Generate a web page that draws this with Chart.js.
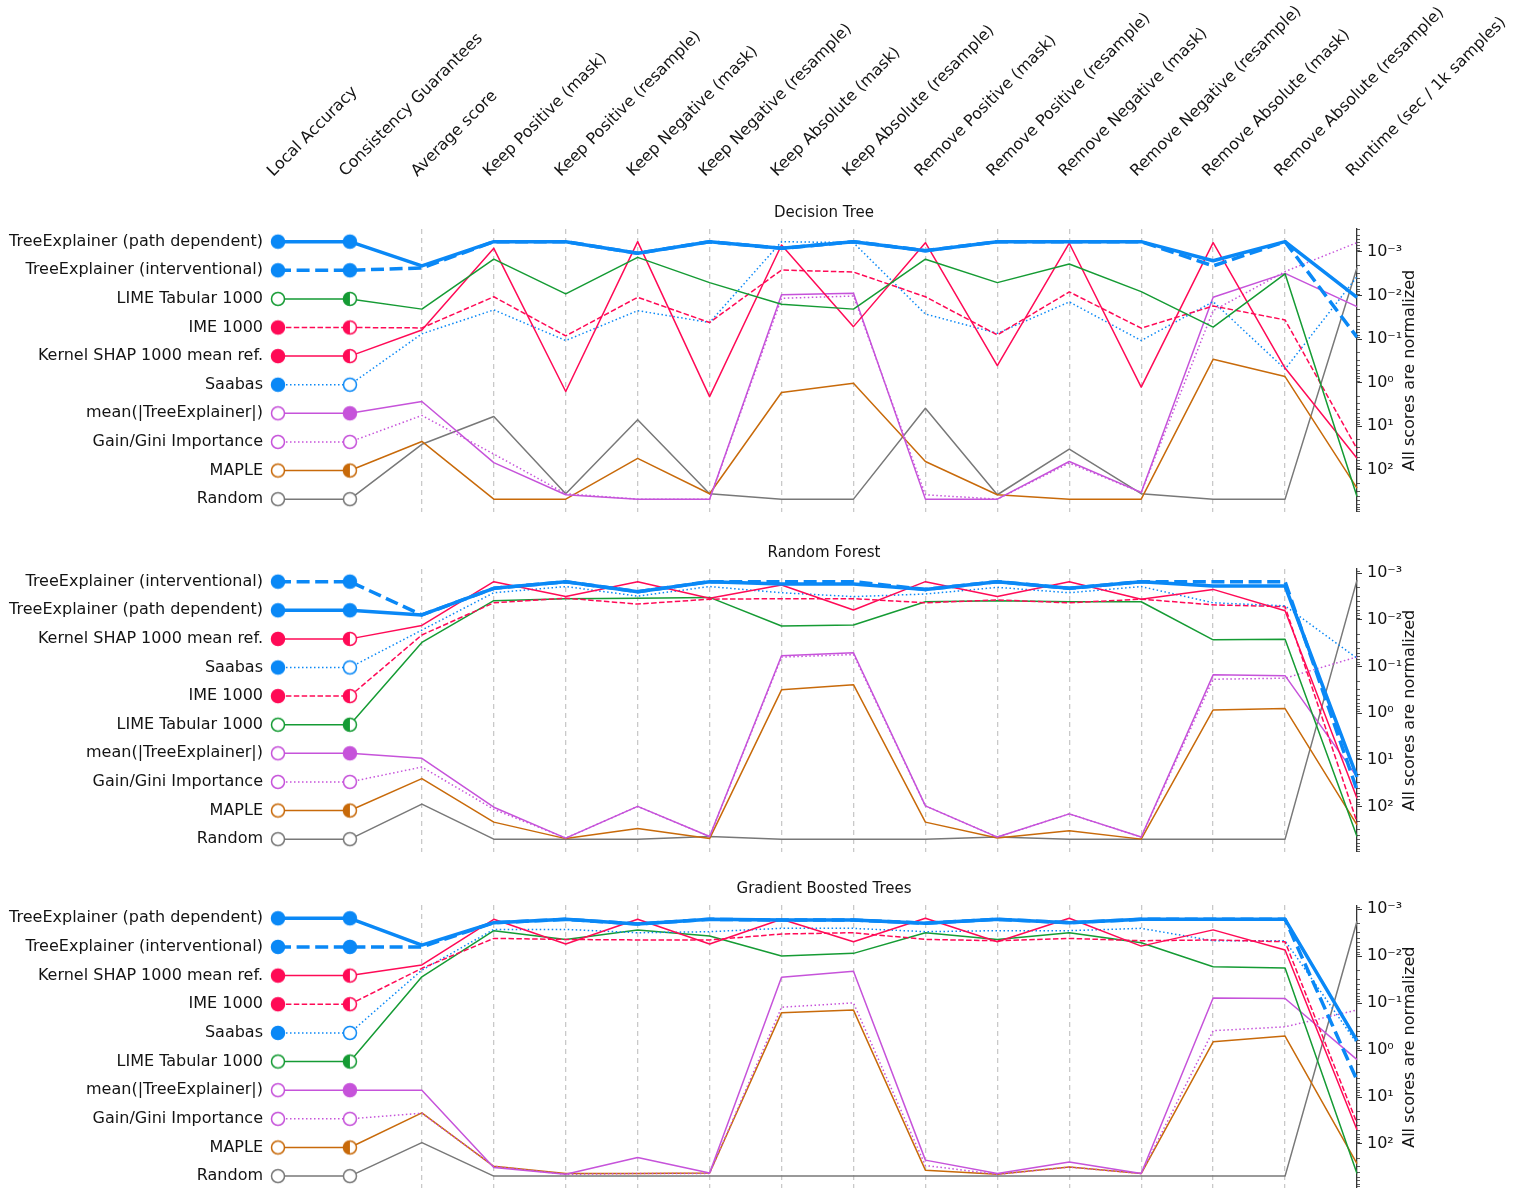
<!DOCTYPE html>
<html>
<head>
<meta charset="utf-8">
<title>Explainer benchmark</title>
<script src="https://cdn.jsdelivr.net/npm/chart.js@4.4.1/dist/chart.umd.min.js"></script>
<style>
  html, body { margin: 0; padding: 0; background: #ffffff; overflow: hidden; }
  #page { position: relative; width: 1523px; height: 1188px; overflow: hidden; background: #ffffff; }
  #page canvas { position: absolute; left: 0; }
</style>
</head>
<body>
<div id="page">
  <canvas id="panelDT" width="1523" height="520" style="top:0px"></canvas>
  <canvas id="panelRF" width="1523" height="330" style="top:530px"></canvas>
  <canvas id="panelGBT" width="1523" height="323" style="top:866px"></canvas>
</div>
<script>
// ---------------------------------------------------------------------------
// Column headers (the last one is the runtime axis)
const columns = [
  "Local Accuracy", "Consistency Guarantees", "Average score",
  "Keep Positive (mask)", "Keep Positive (resample)",
  "Keep Negative (mask)", "Keep Negative (resample)",
  "Keep Absolute (mask)", "Keep Absolute (resample)",
  "Remove Positive (mask)", "Remove Positive (resample)",
  "Remove Negative (mask)", "Remove Negative (resample)",
  "Remove Absolute (mask)", "Remove Absolute (resample)",
  "Runtime (sec / 1k samples)"
];

const methodNames = [
  "TreeExplainer (path dependent)", "TreeExplainer (interventional)",
  "LIME Tabular 1000", "IME 1000", "Kernel SHAP 1000 mean ref.", "Saabas",
  "mean(|TreeExplainer|)", "Gain/Gini Importance", "MAPLE", "Random"
];
// property markers: full = yes, open = no, half = only under some conditions
const localAccuracy = ["full", "full", "open", "full", "full", "full", "open", "open", "open", "open"];
const consistency   = ["full", "full", "half", "half", "half", "open", "full", "open", "half", "open"];

const panelTitles = ["Decision Tree", "Random Forest", "Gradient Boosted Trees"];

// Normalized scores (1 = best). Columns: Average score, then the 12 metrics.
const dtOrder = [
  "TreeExplainer (path dependent)", "TreeExplainer (interventional)", "LIME Tabular 1000",
  "IME 1000", "Kernel SHAP 1000 mean ref.", "Saabas", "mean(|TreeExplainer|)",
  "Gain/Gini Importance", "MAPLE", "Random"
];
const dtScores = [
  [0.906, 1.000, 1.000, 0.955, 1.000, 0.974, 1.000, 0.965, 1.000, 1.000, 1.000, 0.926, 1.000],
  [0.898, 1.000, 1.000, 0.955, 1.000, 0.974, 1.000, 0.965, 1.000, 1.000, 1.000, 0.906, 1.000],
  [0.738, 0.932, 0.797, 0.939, 0.841, 0.757, 0.738, 0.932, 0.841, 0.913, 0.806, 0.668, 0.875],
  [0.665, 0.786, 0.634, 0.784, 0.686, 0.890, 0.882, 0.786, 0.638, 0.805, 0.664, 0.750, 0.696],
  [0.657, 0.974, 0.418, 1.000, 0.398, 0.987, 0.670, 0.996, 0.519, 0.994, 0.435, 0.996, 0.509],
  [0.642, 0.735, 0.616, 0.732, 0.686, 1.000, 0.996, 0.719, 0.644, 0.766, 0.616, 0.767, 0.505],
  [0.379, 0.142, 0.017, 0.000, 0.000, 0.794, 0.800, 0.000, 0.000, 0.146, 0.026, 0.784, 0.877],
  [0.325, 0.175, 0.021, 0.000, 0.000, 0.780, 0.789, 0.017, 0.000, 0.140, 0.026, 0.732, 0.884],
  [0.224, 0.000, 0.000, 0.158, 0.021, 0.414, 0.450, 0.146, 0.017, 0.000, 0.000, 0.543, 0.476],
  [0.213, 0.321, 0.021, 0.308, 0.021, 0.000, 0.000, 0.353, 0.017, 0.194, 0.021, 0.000, 0.000]
];
const dtRuntime = [0.011, 0.09, 410, 33, 54, 0.0037, 0.018, 0.00061, 263, 0.0023];
const dtRuntimeAxis = [2.94e-4, 929];

const rfOrder = [
  "TreeExplainer (interventional)", "TreeExplainer (path dependent)", "Kernel SHAP 1000 mean ref.",
  "Saabas", "IME 1000", "LIME Tabular 1000", "mean(|TreeExplainer|)",
  "Gain/Gini Importance", "MAPLE", "Random"
];
const rfScores = [
  [0.871, 0.974, 1.000, 0.961, 1.000, 1.000, 1.000, 0.970, 1.000, 0.974, 1.000, 1.000, 1.000],
  [0.871, 0.974, 1.000, 0.961, 1.000, 0.991, 0.991, 0.970, 1.000, 0.974, 1.000, 0.983, 0.983],
  [0.830, 1.000, 0.942, 1.000, 0.936, 0.987, 0.890, 1.000, 0.942, 1.000, 0.932, 0.970, 0.887],
  [0.812, 0.957, 0.981, 0.944, 0.981, 0.957, 0.942, 0.952, 0.978, 0.957, 0.981, 0.918, 0.906],
  [0.793, 0.918, 0.936, 0.913, 0.932, 0.934, 0.934, 0.918, 0.929, 0.918, 0.932, 0.910, 0.903],
  [0.764, 0.926, 0.934, 0.936, 0.939, 0.828, 0.832, 0.922, 0.926, 0.922, 0.922, 0.774, 0.776],
  [0.314, 0.124, 0.004, 0.127, 0.010, 0.712, 0.724, 0.129, 0.008, 0.098, 0.008, 0.638, 0.635],
  [0.280, 0.116, 0.004, 0.127, 0.010, 0.707, 0.717, 0.129, 0.008, 0.098, 0.008, 0.621, 0.625],
  [0.235, 0.066, 0.002, 0.041, 0.002, 0.580, 0.600, 0.066, 0.004, 0.033, 0.000, 0.502, 0.507],
  [0.136, 0.000, 0.000, 0.000, 0.010, 0.000, 0.000, 0.000, 0.008, 0.000, 0.000, 0.000, 0.000]
];
const rfRuntime = [44, 23, 66, 0.066, 215, 437, 23, 0.062, 245, 0.0014];
const rfRuntimeAxis = [8.02e-4, 938];

const gbtOrder = [
  "TreeExplainer (path dependent)", "TreeExplainer (interventional)", "Kernel SHAP 1000 mean ref.",
  "IME 1000", "Saabas", "LIME Tabular 1000", "mean(|TreeExplainer|)",
  "Gain/Gini Importance", "MAPLE", "Random"
];
const gbtScores = [
  [0.896, 0.983, 0.996, 0.978, 0.996, 0.993, 0.993, 0.981, 0.996, 0.983, 0.996, 0.996, 0.996],
  [0.889, 0.983, 0.996, 0.978, 0.996, 0.993, 0.993, 0.981, 0.996, 0.983, 0.996, 0.996, 0.996],
  [0.819, 0.996, 0.900, 0.996, 0.900, 0.996, 0.909, 1.000, 0.909, 1.000, 0.892, 0.955, 0.877],
  [0.806, 0.922, 0.918, 0.916, 0.916, 0.939, 0.944, 0.918, 0.913, 0.922, 0.913, 0.916, 0.909],
  [0.799, 0.957, 0.957, 0.944, 0.948, 0.961, 0.961, 0.948, 0.952, 0.952, 0.961, 0.913, 0.913],
  [0.773, 0.952, 0.918, 0.955, 0.931, 0.854, 0.864, 0.944, 0.918, 0.944, 0.905, 0.812, 0.807],
  [0.333, 0.033, 0.007, 0.072, 0.012, 0.771, 0.795, 0.062, 0.010, 0.055, 0.010, 0.691, 0.689],
  [0.244, 0.038, 0.007, 0.010, 0.010, 0.655, 0.672, 0.041, 0.007, 0.035, 0.010, 0.564, 0.579],
  [0.245, 0.038, 0.010, 0.010, 0.012, 0.634, 0.644, 0.023, 0.007, 0.035, 0.010, 0.521, 0.543],
  [0.130, 0.000, 0.000, 0.000, 0.000, 0.000, 0.000, 0.000, 0.000, 0.000, 0.000, 0.000, 0.000]
];
const gbtRuntime = [0.63, 4.4, 50, 36, 0.72, 426, 1.6, 0.14, 263, 0.0018];
const gbtRuntimeAxis = [8.26e-4, 912];

const runtimeTicks = [1e-3, 1e-2, 1e-1, 1e0, 1e1, 1e2];

// ---------------------------------------------------------------------------
// Styling
const FONT_FAMILY = "'DejaVu Sans', 'Liberation Sans', sans-serif";
const INK = "#141414";
const BLUE = "#0a88f6";
const RED = "#ff0a56";
const GREEN = "#159b34";
const PURPLE = "#c653da";
const ORANGE = "#c86a0a";
const GRAY = "#787878";
const GRID = "#c9c9c9";

const Y_MIN = -0.05, Y_MAX = 1.05;
const AREA_H = 283.4;          // plot height in px (rows are 1/9 apart)

const methodStyle = {
  "TreeExplainer (path dependent)": { color: BLUE,   width: 3.5, dash: [] },
  "TreeExplainer (interventional)": { color: BLUE,   width: 3.5, dash: [13, 5.6] },
  "LIME Tabular 1000":              { color: GREEN,  width: 1.5, dash: [] },
  "IME 1000":                       { color: RED,    width: 1.5, dash: [5.5, 2.4] },
  "Kernel SHAP 1000 mean ref.":     { color: RED,    width: 1.5, dash: [] },
  "Saabas":                         { color: BLUE,   width: 1.5, dash: [1.5, 2.5] },
  "mean(|TreeExplainer|)":          { color: PURPLE, width: 1.5, dash: [] },
  "Gain/Gini Importance":           { color: PURPLE, width: 1.5, dash: [1.5, 2.5] },
  "MAPLE":                          { color: ORANGE, width: 1.5, dash: [] },
  "Random":                         { color: GRAY,   width: 1.5, dash: [] }
};

const RUNTIME_COL = columns.length - 1;

// Circle markers: filled, open, or left half filled
const markerCache = {};
function markerImage(kind, color) {
  const key = kind + color;
  if (markerCache[key]) return markerCache[key];
  const size = 18, c = size / 2, r = 6.5;
  const cv = document.createElement("canvas");
  cv.width = size; cv.height = size;
  const g = cv.getContext("2d");
  g.beginPath(); g.arc(c, c, r, 0, Math.PI * 2);
  g.fillStyle = kind === "full" ? color : "#ffffff";
  g.fill();
  if (kind === "half") {
    g.beginPath();
    g.moveTo(c, c - r);
    g.arc(c, c, r, -Math.PI / 2, Math.PI / 2, true);
    g.closePath();
    g.fillStyle = color;
    g.fill();
  }
  g.beginPath(); g.arc(c, c, r, 0, Math.PI * 2);
  g.lineWidth = 1.5; g.strokeStyle = color; g.stroke();
  markerCache[key] = cv;
  return cv;
}

const supMap = { "-": "\u207B", "0": "\u2070", "1": "\u00B9", "2": "\u00B2", "3": "\u00B3",
  "4": "\u2074", "5": "\u2075", "6": "\u2076", "7": "\u2077", "8": "\u2078", "9": "\u2079" };
function powerLabel(v) {
  const e = Math.round(Math.log10(v));
  return "10" + String(e).split("").map(ch => supMap[ch]).join("");
}

function buildDatasets(order, scores, runtime) {
  const last = order.length - 1;
  return order.map((name, row) => {
    const st = methodStyle[name];
    const m = methodNames.indexOf(name);
    const rowValue = 1 - row / last;
    const values = [rowValue, rowValue].concat(scores[row], [runtime[row]]);
    return {
      label: name,
      data: values.map((v, i) => ({ x: i, y: v })),
      runtime: runtime[row],
      xAxisID: "x",
      yAxisID: "y",
      borderColor: st.color,
      backgroundColor: st.color,
      borderWidth: st.width,
      borderDash: st.dash,
      borderCapStyle: "butt",
      borderJoinStyle: "round",
      tension: 0,
      fill: false,
      clip: false,
      pointBorderWidth: 0,
      pointRadius: ctx => (ctx.dataIndex < 2 ? 7 : 0),
      pointHoverRadius: ctx => (ctx.dataIndex < 2 ? 7 : 0),
      pointStyle: ctx => {
        if (ctx.dataIndex === 0) return markerImage(localAccuracy[m], st.color);
        if (ctx.dataIndex === 1) return markerImage(consistency[m], st.color);
        return "circle";
      }
    };
  });
}

// Runtime values live on the log axis: move the last point of every line there
const runtimeOnLogAxis = {
  id: "runtimeOnLogAxis",
  afterDatasetsUpdate(chart) {
    const yR = chart.scales.yRuntime;
    chart.data.datasets.forEach((ds, i) => {
      const meta = chart.getDatasetMeta(i);
      const pt = meta.data[RUNTIME_COL];
      if (pt) pt.y = yR.getPixelForValue(ds.runtime);
    });
  }
};

// Minor ticks of the runtime axis, panel title and the rotated axis title
const panelDecorations = {
  id: "panelDecorations",
  afterDraw(chart, args, opts) {
    const ctx = chart.ctx;
    const area = chart.chartArea;
    const yR = chart.scales.yRuntime;
    ctx.save();
    ctx.strokeStyle = "#333333";
    ctx.lineWidth = 0.8;
    for (let e = -5; e <= 4; e++) {
      for (let k = 2; k <= 9; k++) {
        const v = k * Math.pow(10, e);
        if (v < yR.min || v > yR.max) continue;
        const py = Math.round(yR.getPixelForValue(v)) + 0.5;
        ctx.beginPath();
        ctx.moveTo(yR.left, py);
        ctx.lineTo(yR.left + 3, py);
        ctx.stroke();
      }
    }
    ctx.fillStyle = INK;
    ctx.font = "15px " + FONT_FAMILY;
    ctx.textAlign = "center";
    ctx.textBaseline = "middle";
    ctx.fillText(opts.title, 824, area.top - 16);

    ctx.font = "16px " + FONT_FAMILY;
    ctx.translate(1410, (area.top + area.bottom) / 2);
    ctx.rotate(-Math.PI / 2);
    ctx.fillText("All scores are normalized", 0, 0);
    ctx.restore();
  }
};

function makePanel(canvasId, title, order, scores, runtime, runtimeAxis, topGap, showHeaders) {
  const font = { family: FONT_FAMILY, size: 16 };
  const chart = new Chart(document.getElementById(canvasId), {
    type: "line",
    data: { datasets: buildDatasets(order, scores, runtime) },
    plugins: [runtimeOnLogAxis, panelDecorations],
    options: {
      responsive: false,
      maintainAspectRatio: false,
      devicePixelRatio: 1,
      animation: false,
      events: [],
      layout: { autoPadding: false, padding: 0 },
      plugins: {
        legend: { display: false },
        tooltip: { enabled: false },
        panelDecorations: { title: title }
      },
      scales: {
        x: {
          type: "linear",
          position: "top",
          min: 0,
          max: RUNTIME_COL,
          afterBuildTicks: s => { s.ticks = columns.map((c, i) => ({ value: i })); },
          afterFit: s => { s.height = topGap; s.paddingLeft = 0; s.paddingRight = 0; },
          ticks: {
            display: showHeaders,
            autoSkip: false,
            minRotation: 45,
            maxRotation: 45,
            padding: 48,
            labelOffset: 6,
            font: font,
            color: INK,
            callback: (v, i) => columns[i]
          },
          grid: {
            drawTicks: false,
            lineWidth: 1.3,
            color: ctx => (ctx.tick && ctx.tick.value >= 2 && ctx.tick.value <= RUNTIME_COL - 1) ? GRID : "rgba(0,0,0,0)"
          },
          border: { display: false, dash: [5, 4] }
        },
        y: {
          type: "linear",
          position: "left",
          min: Y_MIN,
          max: Y_MAX,
          afterBuildTicks: s => { s.ticks = order.map((n, i) => ({ value: 1 - i / (order.length - 1) })); },
          afterFit: s => { s.width = 278; s.paddingTop = 0; s.paddingBottom = 0; },
          ticks: {
            autoSkip: false,
            padding: 15,
            font: font,
            color: INK,
            callback: (v, i) => order[i]
          },
          grid: { display: false, drawTicks: false },
          border: { display: false }
        },
        yRuntime: {
          type: "logarithmic",
          position: "right",
          reverse: true,
          min: runtimeAxis[0],
          max: runtimeAxis[1],
          afterBuildTicks: s => { s.ticks = runtimeTicks.map(v => ({ value: v, major: true })); },
          afterFit: s => { s.width = 166; s.paddingTop = 0; s.paddingBottom = 0; },
          ticks: {
            autoSkip: false,
            padding: 5,
            font: font,
            color: INK,
            callback: v => powerLabel(v)
          },
          grid: { drawOnChartArea: false, drawTicks: true, tickLength: 5, color: "#333333", lineWidth: 1 },
          border: { display: true, color: "#333333", width: 1.3 }
        }
      }
    }
  });
  // size the canvas so the plot area is exactly AREA_H tall below the header gap
  const inset = chart.height - chart.chartArea.bottom;
  const wanted = Math.round(topGap + AREA_H + inset);
  if (Math.abs(wanted - chart.height) >= 1) chart.resize(1523, wanted);
  return chart;
}

makePanel("panelDT", panelTitles[0], dtOrder, dtScores, dtRuntime, dtRuntimeAxis, 228.8, true);
makePanel("panelRF", panelTitles[1], rfOrder, rfScores, rfRuntime, rfRuntimeAxis, 38.8, false);
makePanel("panelGBT", panelTitles[2], gbtOrder, gbtScores, gbtRuntime, gbtRuntimeAxis, 39.4, false);
</script>
</body>
</html>
